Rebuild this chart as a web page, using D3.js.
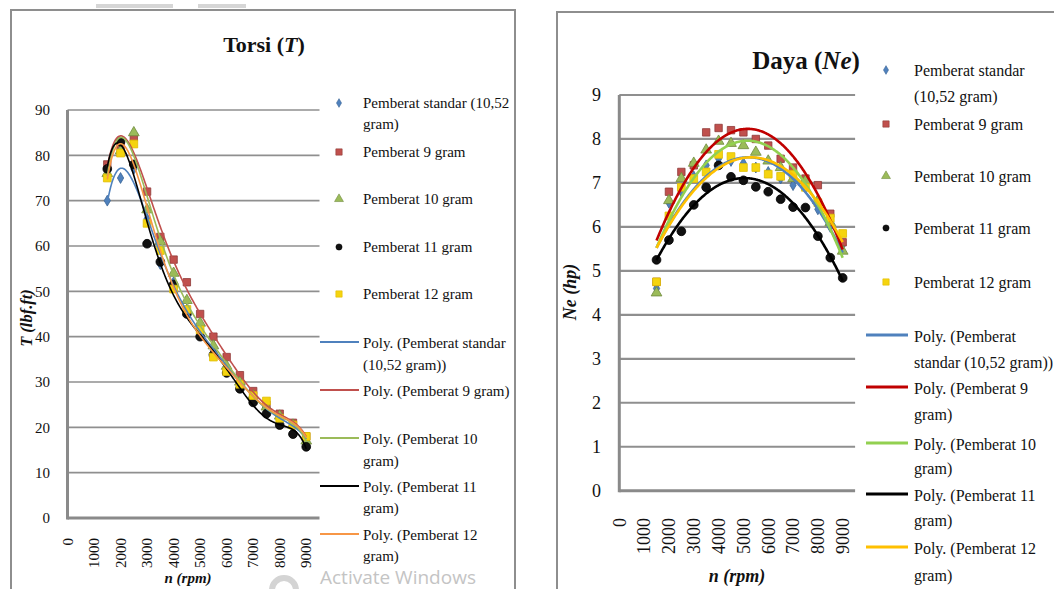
<!DOCTYPE html>
<html><head><meta charset="utf-8">
<script src="https://cdn.jsdelivr.net/npm/d3@7"></script>
<style>body{margin:0;background:#fff;} svg{display:block;}</style>
</head><body>
<svg id="c" width="1054" height="589"></svg>
<script>
// ---------------- DATA ----------------
const rpm = [1500,2000,2500,3000,3500,4000,4500,5000,5500,6000,6500,7000,7500,8000,8500,9000];
const seriesNames = ["Pemberat standar (10,52 gram)","Pemberat 9 gram","Pemberat 10 gram","Pemberat 11 gram","Pemberat 12 gram"];

// Torsi T (lbf.ft)
const torsiStandar = [70,75,77,66,56,52,46,42,37,33,30,27,24.5,22,20,17.5];
const torsi9       = [78,82,84,72,62,57,52,45,40,35.5,31.5,28,25,23,21,18];
const torsi10      = [76,81,85,68,61,54,48,43,38,33.5,30,27,24.5,22.5,20.5,17];
const torsi11      = [77,83,78,60.5,56.5,51.5,45,40,36,32,28.5,25.5,23,20.5,18.5,15.7];
const torsi12      = [75,80.5,82.5,65,59,50.5,46,41.5,35.5,32.3,29.5,27,25.8,22,20.5,18];

// Daya Ne (hp)
const dayaStandar = [4.6,6.55,6.8,7.15,7.4,7.55,7.5,7.45,7.35,7.25,7.1,6.95,6.9,6.4,6.0,5.6];
const daya9       = [4.75,6.8,7.25,7.4,8.15,8.25,8.2,8.15,8.0,7.85,7.55,7.35,7.1,6.95,6.3,5.65];
const daya10      = [4.5,6.6,7.1,7.45,7.75,7.95,7.9,7.85,7.7,7.5,7.35,7.1,7.05,6.6,6.1,5.45];
const daya11      = [5.25,5.7,5.9,6.5,6.9,7.4,7.14,7.06,6.91,6.8,6.63,6.45,6.44,5.79,5.3,4.84];
const daya12      = [4.75,6.25,6.9,7.1,7.25,7.65,7.6,7.35,7.35,7.2,7.15,7.2,6.9,6.55,6.2,5.85];

const xTicks = [0,1000,2000,3000,4000,5000,6000,7000,8000,9000];
const torsiTicks = [0,10,20,30,40,50,60,70,80,90];
const dayaTicks = [0,1,2,3,4,5,6,7,8,9];

// ---------------- HELPERS ----------------
function polyfit(xs, ys, order){
  const c = 5250, s = 3750, n = order + 1;
  const A = Array.from({length:n}, () => new Array(n+1).fill(0));
  xs.forEach((x,i) => {
    const t = (x - c)/s, p = [];
    for (let k=0;k<n;k++) p.push(Math.pow(t,k));
    for (let r=0;r<n;r++){ for (let q=0;q<n;q++) A[r][q] += p[r]*p[q]; A[r][n] += p[r]*ys[i]; }
  });
  for (let col=0;col<n;col++){
    let piv = col;
    for (let r=col+1;r<n;r++) if (Math.abs(A[r][col]) > Math.abs(A[piv][col])) piv = r;
    [A[col],A[piv]] = [A[piv],A[col]];
    for (let r=0;r<n;r++){
      if (r===col) continue;
      const f = A[r][col]/A[col][col];
      for (let q=col;q<=n;q++) A[r][q] -= f*A[col][q];
    }
  }
  const coef = A.map((row,i) => row[n]/row[i]);
  return x => { const t=(x-c)/s; return coef.reduce((acc,a,k)=>acc + a*Math.pow(t,k), 0); };
}

const svg = d3.select("#c");
const SERIF = "'Liberation Serif','Times New Roman',serif";

// page decorations
svg.append("rect").attr("x",96).attr("y",4).attr("width",77).attr("height",4).attr("fill","#d6d6d6");
svg.append("rect").attr("x",198).attr("y",4).attr("width",48).attr("height",4).attr("fill","#d6d6d6");
svg.append("path").attr("d","M11,589 V10 H515 V589").attr("fill","none").attr("stroke","#8e8e8e").attr("stroke-width",2);
svg.append("path").attr("d","M557,589 V12 H1054").attr("fill","none").attr("stroke","#8e8e8e").attr("stroke-width",2);

function drawPanel(cfg){
  const g = svg.append("g");
  const x = d3.scaleLinear().domain([0,9500]).range(cfg.xRange);
  const y = d3.scaleLinear().domain(cfg.yDomain).range(cfg.yRange);
  const x0 = cfg.xRange[0], x1 = cfg.xRange[1];

  // gridlines
  g.append("g").selectAll("line").data(cfg.yTicks.filter(d=>d>0)).join("line")
    .attr("x1",x0).attr("x2",x1).attr("y1",d=>y(d)).attr("y2",d=>y(d))
    .attr("stroke","#8f8f8f").attr("stroke-width",cfg.gridW);
  // axes lines
  g.append("line").attr("x1",x0).attr("x2",x0).attr("y1",y(cfg.yDomain[1])).attr("y2",y(0)+1.5)
    .attr("stroke","#8a8a8a").attr("stroke-width",3);
  g.append("line").attr("x1",x0).attr("x2",x1).attr("y1",y(0)).attr("y2",y(0))
    .attr("stroke","#8a8a8a").attr("stroke-width",3);

  // y tick labels
  g.append("g").selectAll("text").data(cfg.yTicks).join("text")
    .attr("x",cfg.yLabelX).attr("y",d=>y(d)).attr("dy","0.35em")
    .attr("text-anchor","end").attr("font-family",SERIF).attr("font-size",cfg.tickFont)
    .attr("fill","#111").text(d=>d);
  // x tick labels (rotated)
  g.append("g").selectAll("text").data(xTicks).join("text")
    .attr("transform",d=>`translate(${x(d)},${cfg.xLabelTop}) rotate(-90)`)
    .attr("dy","0.35em").attr("text-anchor","end")
    .attr("font-family",SERIF).attr("font-size",cfg.xTickFont).attr("fill","#111").text(d=>d);

  // axis titles
  g.append("text").attr("x",cfg.xTitle[0]).attr("y",cfg.xTitle[1]).attr("text-anchor","middle")
    .attr("font-family",SERIF).attr("font-size",cfg.xTitleFont).attr("font-weight","bold").attr("font-style","italic")
    .attr("fill","#111").text("n (rpm)");
  g.append("text").attr("transform",`translate(${cfg.yTitle[0]},${cfg.yTitle[1]}) rotate(-90)`)
    .attr("text-anchor","middle").attr("dy","0.35em")
    .attr("font-family",SERIF).attr("font-size",cfg.yTitleFont).attr("font-weight","bold").attr("font-style","italic")
    .attr("fill","#111").text(cfg.yTitleText);

  // chart title
  const tt = g.append("text").attr("x",cfg.title[0]).attr("y",cfg.title[1]).attr("dy","0.35em")
    .attr("text-anchor","middle").attr("font-family",SERIF).attr("font-size",cfg.titleFont)
    .attr("font-weight","bold").attr("fill","#111");
  tt.append("tspan").text(cfg.titleMain + " (");
  tt.append("tspan").attr("font-style","italic").text(cfg.titleSym);
  tt.append("tspan").text(")");

  // markers
  const mk = cfg.markers;
  cfg.series.forEach((vals,si) => {
    const m = mk[si];
    g.append("g").selectAll("path").data(vals).join("path")
      .attr("transform",(d,i)=>`translate(${x(rpm[i])},${y(d)})`)
      .attr("d",d3.symbol().type(m.type).size(m.size))
      .attr("fill",m.fill).attr("stroke",m.stroke).attr("stroke-width",0.8);
  });
  // trend lines (polynomial least-squares fit of each series)
  const line = d3.line().x(d=>x(d[0])).y(d=>y(d[1])).curve(d3.curveLinear);
  cfg.series.forEach((vals,si) => {
    const f = polyfit(rpm, vals, cfg.order);
    const pts = d3.range(1500, 9001, 25).map(v => [v, f(v)]);
    g.append("path").datum(pts).attr("d",line).attr("fill","none")
      .attr("stroke",cfg.lineColors[si]).attr("stroke-width",cfg.lineW);
  });

  // legend
  const lg = svg.append("g").attr("font-family",SERIF).attr("font-size",cfg.legFont).attr("fill","#111");
  cfg.legMarkerRows.forEach((rows,si) => {
    const m = mk[si];
    lg.append("path").attr("transform",`translate(${cfg.legMarkerX},${rows[0]})`)
      .attr("d",d3.symbol().type(m.type).size(m.legSize)).attr("fill",m.fill).attr("stroke",m.stroke).attr("stroke-width",0.6);
    cfg.legMarkerText[si].forEach((t,k) => {
      lg.append("text").attr("x",cfg.legTextX).attr("y",rows[k]).attr("dy","0.35em").text(t);
    });
  });
  cfg.legLineRows.forEach((rows,si) => {
    lg.append("line").attr("x1",cfg.legLine[0]).attr("x2",cfg.legLine[1]).attr("y1",rows[0]-1).attr("y2",rows[0]-1)
      .attr("stroke",cfg.lineColors[si]).attr("stroke-width",cfg.legLineW);
    cfg.legLineText[si].forEach((t,k) => {
      lg.append("text").attr("x",cfg.legTextX).attr("y",rows[k]).attr("dy","0.35em").text(t);
    });
  });
}

const markers = [
  {type:d3.symbolDiamond, size:34, legSize:22, fill:"#4F81BD", stroke:"#3a6496"},
  {type:d3.symbolSquare,  size:55, legSize:40, fill:"#C0504D", stroke:"#8f3a38"},
  {type:d3.symbolTriangle,size:50, legSize:34, fill:"#9BBB59", stroke:"#6f8a3c"},
  {type:d3.symbolCircle,  size:60, legSize:30, fill:"#111111", stroke:"#000"},
  {type:d3.symbolSquare,  size:60, legSize:40, fill:"#F5D40F", stroke:"#e0be00"}
];

drawPanel({
  series:[torsiStandar,torsi9,torsi10,torsi11,torsi12], order:6,
  xRange:[67.5,319.5], yDomain:[0,90], yRange:[518,110], yTicks:torsiTicks,
  gridW:1.6, yLabelX:50, tickFont:15, xLabelTop:538, xTickFont:15,
  xTitle:[188,583], xTitleFont:15, yTitle:[26,318], yTitleFont:16.5, yTitleText:"T (lbf.ft)",
  title:[264,44], titleFont:22, titleMain:"Torsi", titleSym:"T",
  markers:markers,
  lineColors:["#4F81BD","#C0504D","#9BBB59","#000000","#F79646"], lineW:1.6,
  legFont:15, legMarkerX:339, legTextX:363, legLine:[320,359], legLineW:2,
  legMarkerRows:[[103,124],[152],[199],[247],[294]],
  legMarkerText:[["Pemberat standar (10,52","gram)"],["Pemberat 9 gram"],["Pemberat 10 gram"],["Pemberat 11 gram"],["Pemberat 12 gram"]],
  legLineRows:[[343,365],[391],[439,461],[487,508],[535,556]],
  legLineText:[["Poly. (Pemberat standar","(10,52 gram))"],["Poly. (Pemberat 9 gram)"],["Poly. (Pemberat 10","gram)"],["Poly. (Pemberat 11","gram)"],["Poly. (Pemberat 12","gram)"]]
});

drawPanel({
  series:[dayaStandar,daya9,daya10,daya11,daya12], order:2,
  xRange:[619.3,855.1], yDomain:[0,9], yRange:[490.7,95], yTicks:dayaTicks,
  gridW:2.2, yLabelX:601, tickFont:18, xLabelTop:518, xTickFont:18,
  xTitle:[737,582], xTitleFont:18, yTitle:[570,292], yTitleFont:18, yTitleText:"Ne (hp)",
  title:[806,60], titleFont:25, titleMain:"Daya", titleSym:"Ne",
  markers:markers,
  lineColors:["#4F81BD","#C00000","#92D050","#000000","#FFC000"], lineW:2.6,
  legFont:16, legMarkerX:886, legTextX:914, legLine:[866,908], legLineW:3,
  legMarkerRows:[[70,96],[124],[176],[228],[282]],
  legMarkerText:[["Pemberat standar","(10,52 gram)"],["Pemberat 9 gram"],["Pemberat 10 gram"],["Pemberat 11 gram"],["Pemberat 12 gram"]],
  legLineRows:[[336,362],[388,414],[444,468],[495,520],[548,575]],
  legLineText:[["Poly. (Pemberat","standar (10,52 gram))"],["Poly. (Pemberat 9","gram)"],["Poly. (Pemberat 10","gram)"],["Poly. (Pemberat 11","gram)"],["Poly. (Pemberat 12","gram)"]]
});

// watermark
svg.append("circle").attr("cx",284).attr("cy",590).attr("r",12).attr("fill","none").attr("stroke","#d4d4d4").attr("stroke-width",6);
svg.append("text").attr("x",320).attr("y",584).attr("font-family","'Open Sans','Noto Sans',sans-serif")
  .attr("font-size",19).attr("fill","#c4c4c4").text("Activate Windows");
</script>
</body></html>
